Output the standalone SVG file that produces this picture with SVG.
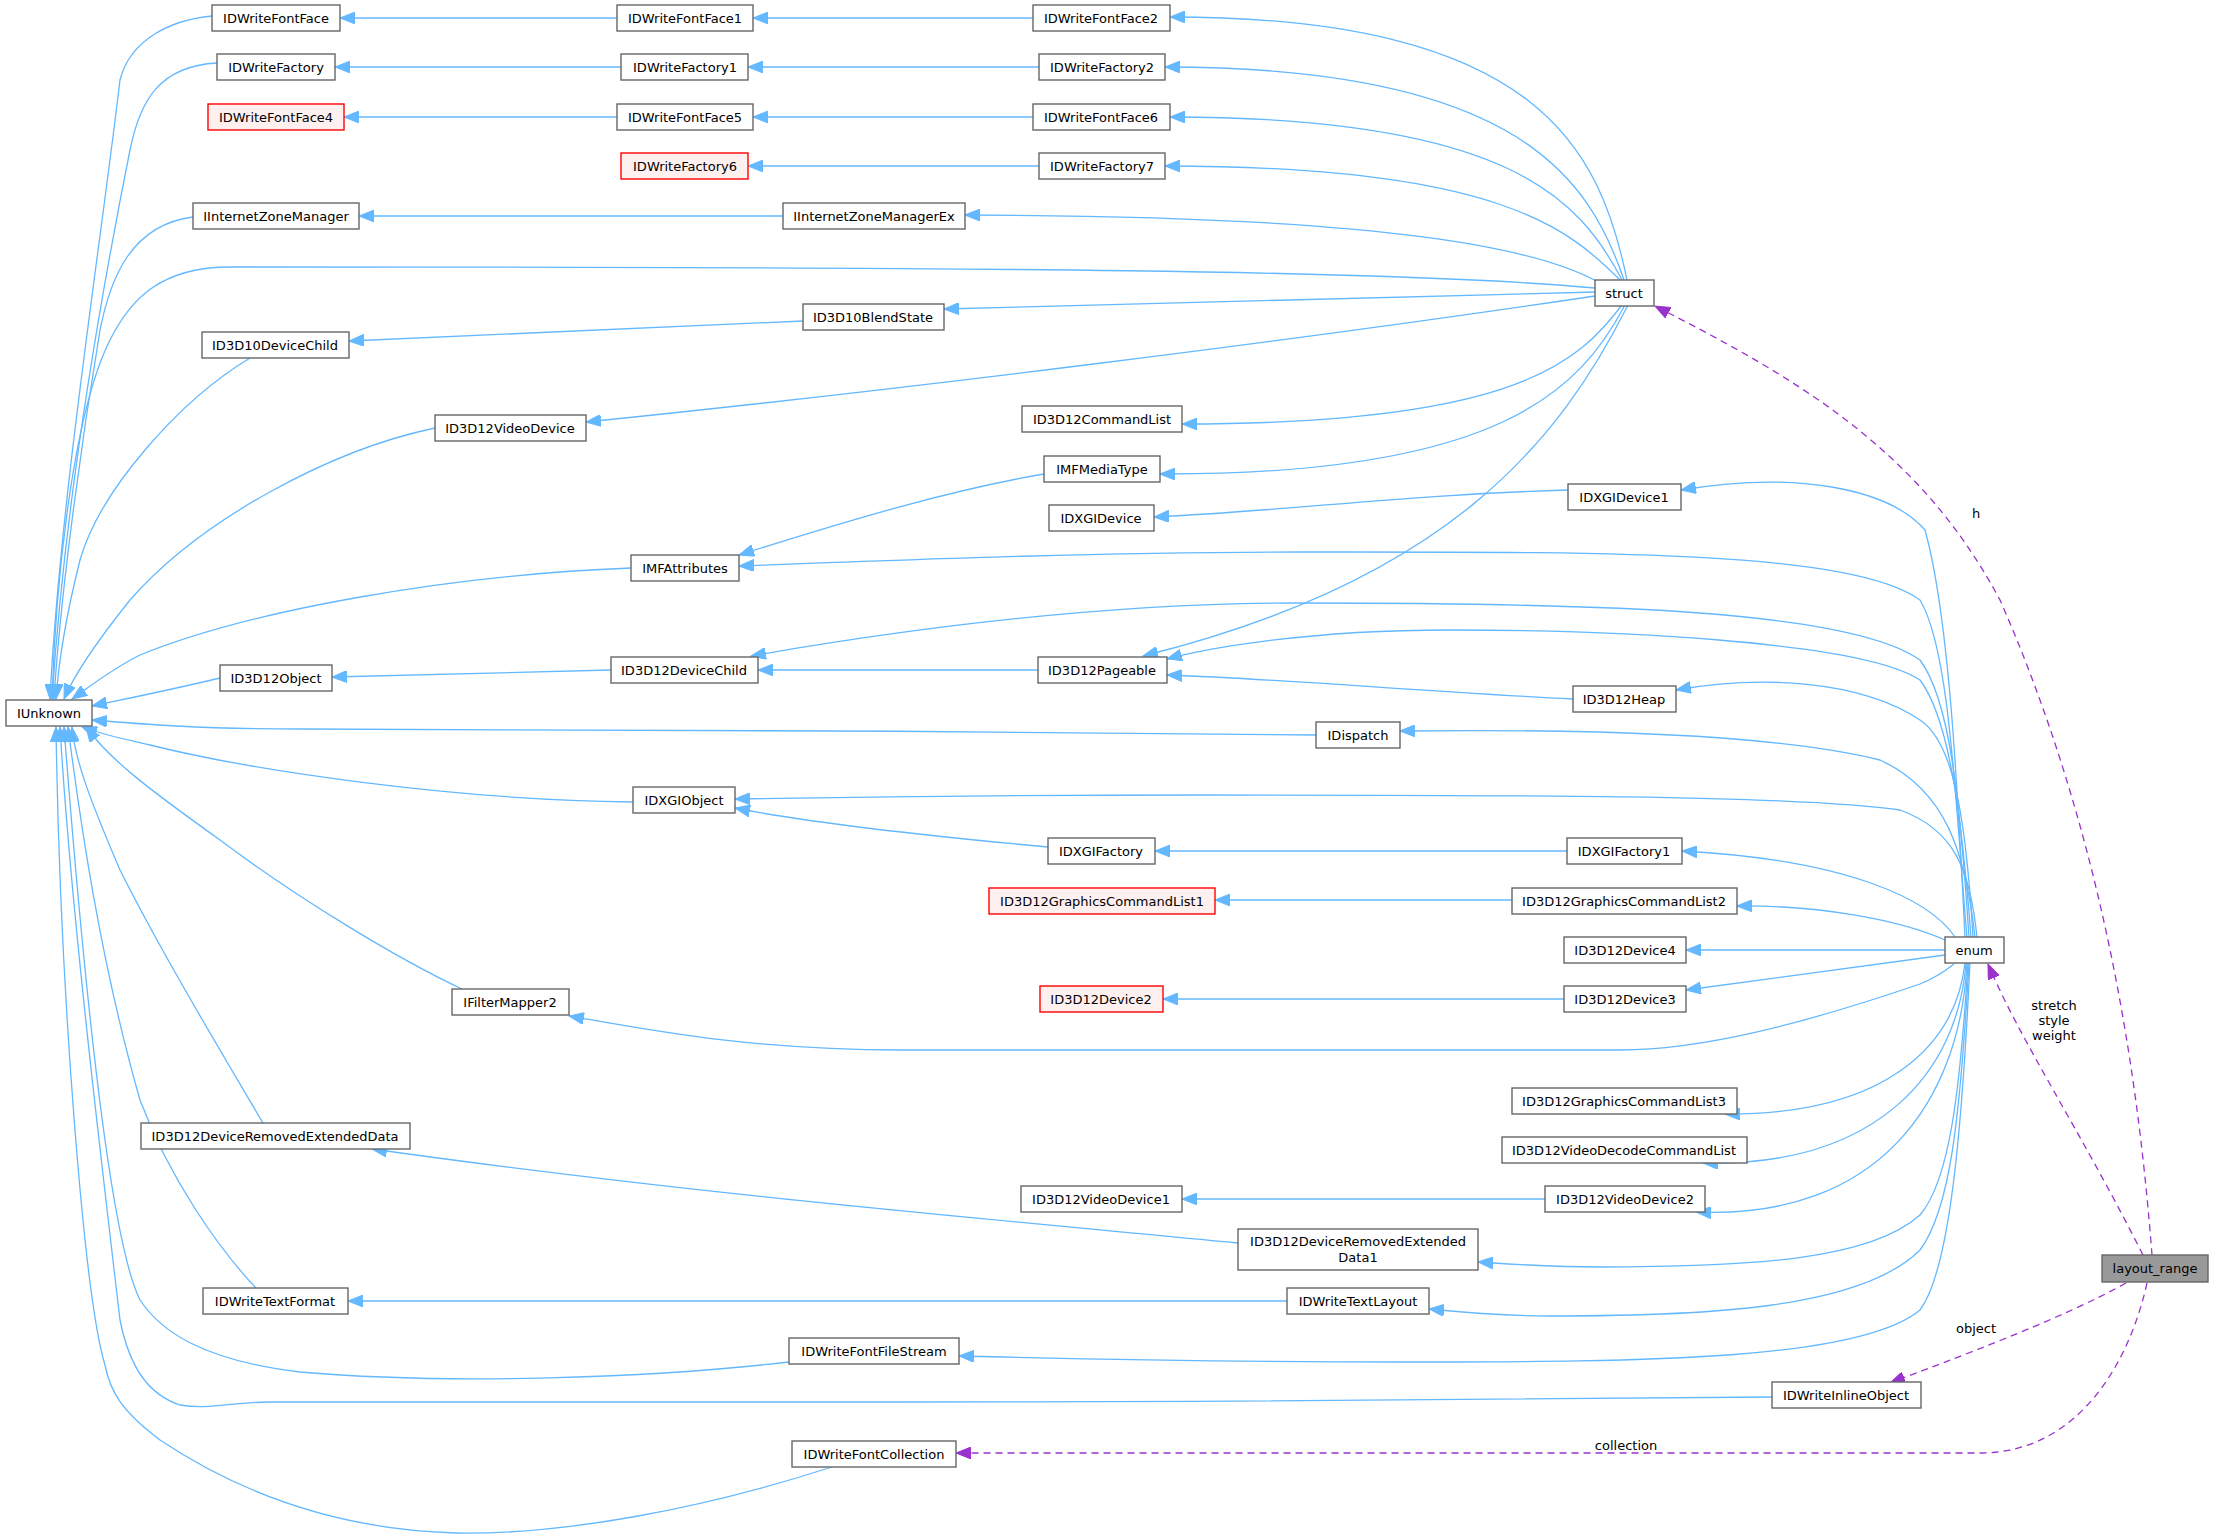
<svg xmlns="http://www.w3.org/2000/svg" width="2213" height="1539" viewBox="0 0 2213 1539">
<style>
rect{fill:#fff;stroke:#666;stroke-width:1.4}
.red rect{fill:#fff0f0;stroke:#f00}
.cur rect{fill:#999}
text{font-family:"DejaVu Sans","Liberation Sans",sans-serif;font-size:13px;fill:#000;text-anchor:middle}
.e path{fill:none;stroke:#63b8ff;stroke-width:1.3;marker-end:url(#a)}
.e path.d{stroke:#9a32cd;stroke-dasharray:7,5;marker-end:url(#p)}
</style>
<defs>
<marker id="a" markerUnits="userSpaceOnUse" markerWidth="16" markerHeight="12" refX="15" refY="6" orient="auto"><path d="M0,0 L15,6 L0,12 z" fill="#63b8ff" stroke="#63b8ff"/></marker>
<marker id="p" markerUnits="userSpaceOnUse" markerWidth="16" markerHeight="12" refX="15" refY="6" orient="auto"><path d="M0,0 L15,6 L0,12 z" fill="#9a32cd" stroke="#9a32cd"/></marker>
</defs>
<rect x="0" y="0" width="2213" height="1539" style="fill:#fff;stroke:none"/>
<g class="e" id="edges">
<path d="M617,18 L340,18"/><path d="M1033,18 L753,18"/>
<path d="M621,67 L335,67"/><path d="M1039,67 L748,67"/>
<path d="M617,117 L344,117"/><path d="M1033,117 L753,117"/>
<path d="M1039,166 L748,166"/><path d="M783,216 L359,216"/>
<path d="M1627,280 C1600,150 1540,17 1170,17"/>
<path d="M1624,280 C1590,180 1520,67 1165,67"/>
<path d="M1622,280 C1580,200 1510,117 1170,117"/>
<path d="M1620,280 C1570,230 1500,166 1165,166"/>
<path d="M1598,282 C1540,250 1400,216 965,215"/>
<path d="M1595,288 C1400,270 1000,267 230,267 C160,267 130,300 110,340 C70,420 55,600 52,699"/>
<path d="M1595,292 C1400,296 1200,303 944,309"/>
<path d="M1595,296 C1300,340 900,390 586,422"/>
<path d="M1622,305 C1580,360 1520,424 1182,424"/>
<path d="M1625,305 C1580,390 1500,475 1160,474"/>
<path d="M1628,305 C1560,440 1450,580 1143,656"/>
<path d="M1568,490 C1400,495 1300,510 1154,517"/>
<path d="M1965,937 C1958,800 1950,620 1925,530 C1890,490 1800,470 1681,490"/>
<path d="M1967,937 C1955,800 1950,650 1920,600 C1850,550 1600,552 1300,552 C1100,552 900,560 739,566"/>
<path d="M1969,937 C1960,800 1950,700 1920,660 C1850,610 1600,603 1300,603 C1100,603 900,630 751,656"/>
<path d="M1971,937 C1962,820 1950,720 1920,680 C1860,640 1600,630 1450,630 C1300,630 1200,650 1167,659"/>
<path d="M1573,699 C1400,690 1300,680 1167,675"/>
<path d="M1973,937 C1965,800 1950,740 1920,720 C1860,680 1760,675 1676,690"/>
<path d="M1316,735 C1000,730 400,730 300,729 C200,729 140,724 92,720"/>
<path d="M1975,937 C1965,850 1945,790 1880,760 C1800,740 1650,728 1400,731"/>
<path d="M220,678 C170,690 130,698 92,706"/>
<path d="M611,670 C500,673 400,675 332,677"/>
<path d="M1038,670 L758,670"/>
<path d="M631,568 C450,575 250,610 140,655 C110,670 85,690 72,699"/>
<path d="M1044,474 C950,490 850,520 739,555"/>
<path d="M435,428 C330,450 200,520 130,600 C90,650 72,680 64,699"/>
<path d="M250,358 C180,400 100,490 80,560 C65,620 58,670 56,699"/>
<path d="M803,321 L349,341"/>
<path d="M193,217 C130,225 110,280 100,330 C80,450 60,600 54,699"/>
<path d="M217,63 C160,66 140,100 130,150 C100,300 65,500 52,699"/>
<path d="M212,16 C170,20 130,40 120,80 C100,250 60,500 50,699"/>
<path d="M633,802 C450,800 250,770 150,745 C120,738 100,734 82,727"/>
<path d="M1977,937 C1970,870 1955,830 1900,810 C1800,795 1500,795 1200,795 C1000,795 850,797 735,799"/>
<path d="M1048,847 C950,838 820,825 735,808"/>
<path d="M1567,851 L1155,851"/>
<path d="M1955,937 C1930,900 1850,860 1682,851"/>
<path d="M1512,900 L1215,900"/>
<path d="M1945,940 C1900,920 1820,905 1737,906"/>
<path d="M1945,950 L1686,950"/>
<path d="M1564,999 L1163,999"/>
<path d="M1945,955 L1686,990"/>
<path d="M1954,964 C1940,975 1930,980 1920,984 C1800,1025 1700,1050 1620,1050 L900,1050 C750,1050 650,1030 569,1016"/>
<path d="M462,989 C400,960 300,900 220,840 C150,790 110,760 86,727"/>
<path d="M1965,963 C1955,1050 1880,1115 1725,1114"/>
<path d="M1966,963 C1958,1070 1880,1167 1703,1163"/>
<path d="M1545,1199 L1182,1199"/>
<path d="M1967,963 C1960,1100 1880,1220 1696,1212"/>
<path d="M1968,963 C1960,1090 1950,1180 1920,1215 C1870,1260 1750,1267 1600,1267 C1550,1267 1510,1264 1478,1262"/>
<path d="M1238,1243 C1000,1220 700,1195 372,1149"/>
<path d="M263,1123 C220,1050 160,950 120,870 C90,800 75,760 72,727"/>
<path d="M1287,1301 L348,1301"/>
<path d="M1969,963 C1960,1120 1950,1210 1920,1250 C1860,1310 1700,1316 1550,1316 C1500,1316 1460,1312 1429,1309"/>
<path d="M256,1288 C220,1250 170,1180 140,1100 C100,960 80,820 68,727"/>
<path d="M1970,963 C1962,1130 1950,1270 1920,1310 C1860,1360 1650,1362 1400,1362 C1200,1362 1050,1358 959,1356"/>
<path d="M789,1362 C650,1378 450,1385 300,1372 C200,1360 160,1330 140,1300 C110,1240 85,1000 64,727"/>
<path d="M1772,1397 C1600,1400 1200,1402 900,1402 L270,1402 C230,1402 210,1410 180,1405 C150,1395 130,1370 120,1320 C100,1150 70,900 60,727"/>
<path d="M835,1466 C700,1510 560,1535 456,1533 C350,1530 250,1500 160,1440 C120,1410 110,1390 105,1365 C85,1300 60,1000 56,727"/>
<path class="d" d="M2152,1255 C2140,1100 2110,850 2000,600 C1920,450 1800,380 1655,306"/>
<path class="d" d="M2143,1255 C2080,1130 2020,1040 1988,964"/>
<path class="d" d="M2126,1283 C2060,1320 1950,1360 1890,1383"/>
<path class="d" d="M2147,1283 C2130,1360 2080,1453 1980,1453 L956,1453"/>
</g>
<g id="labels">
<text x="1976" y="518">h</text>
<text x="2054" y="1010">stretch</text><text x="2054" y="1025">style</text><text x="2054" y="1040">weight</text>
<text x="1976" y="1333">object</text>
<text x="1626" y="1450">collection</text>
</g>
<g id="n1"><rect x="212" y="5" width="128" height="26"/><text x="276" y="23">IDWriteFontFace</text></g>
<g id="n2"><rect x="617" y="5" width="136" height="26"/><text x="685" y="23">IDWriteFontFace1</text></g>
<g id="n3"><rect x="1033" y="5" width="137" height="26"/><text x="1101" y="23">IDWriteFontFace2</text></g>
<g id="n4"><rect x="217" y="54" width="118" height="26"/><text x="276" y="72">IDWriteFactory</text></g>
<g id="n5"><rect x="621" y="54" width="127" height="26"/><text x="685" y="72">IDWriteFactory1</text></g>
<g id="n6"><rect x="1039" y="54" width="126" height="26"/><text x="1102" y="72">IDWriteFactory2</text></g>
<g id="n7" class="red"><rect x="208" y="104" width="136" height="26"/><text x="276" y="122">IDWriteFontFace4</text></g>
<g id="n8"><rect x="617" y="104" width="136" height="26"/><text x="685" y="122">IDWriteFontFace5</text></g>
<g id="n9"><rect x="1033" y="104" width="137" height="26"/><text x="1101" y="122">IDWriteFontFace6</text></g>
<g id="n10" class="red"><rect x="621" y="153" width="127" height="26"/><text x="685" y="171">IDWriteFactory6</text></g>
<g id="n11"><rect x="1039" y="153" width="126" height="26"/><text x="1102" y="171">IDWriteFactory7</text></g>
<g id="n12"><rect x="193" y="203" width="166" height="26"/><text x="276" y="221">IInternetZoneManager</text></g>
<g id="n13"><rect x="783" y="203" width="182" height="26"/><text x="874" y="221">IInternetZoneManagerEx</text></g>
<g id="n14"><rect x="1595" y="280" width="59" height="26"/><text x="1624" y="298">struct</text></g>
<g id="n15"><rect x="803" y="304" width="141" height="26"/><text x="873" y="322">ID3D10BlendState</text></g>
<g id="n16"><rect x="202" y="332" width="147" height="26"/><text x="275" y="350">ID3D10DeviceChild</text></g>
<g id="n17"><rect x="1022" y="406" width="160" height="26"/><text x="1102" y="424">ID3D12CommandList</text></g>
<g id="n18"><rect x="435" y="415" width="151" height="26"/><text x="510" y="433">ID3D12VideoDevice</text></g>
<g id="n19"><rect x="1044" y="456" width="116" height="26"/><text x="1102" y="474">IMFMediaType</text></g>
<g id="n20"><rect x="1568" y="484" width="113" height="26"/><text x="1624" y="502">IDXGIDevice1</text></g>
<g id="n21"><rect x="1049" y="505" width="105" height="26"/><text x="1101" y="523">IDXGIDevice</text></g>
<g id="n22"><rect x="631" y="555" width="108" height="26"/><text x="685" y="573">IMFAttributes</text></g>
<g id="n23"><rect x="611" y="657" width="147" height="26"/><text x="684" y="675">ID3D12DeviceChild</text></g>
<g id="n24"><rect x="1038" y="657" width="129" height="26"/><text x="1102" y="675">ID3D12Pageable</text></g>
<g id="n25"><rect x="220" y="665" width="112" height="26"/><text x="276" y="683">ID3D12Object</text></g>
<g id="n26"><rect x="1573" y="686" width="103" height="26"/><text x="1624" y="704">ID3D12Heap</text></g>
<g id="n27"><rect x="6" y="700" width="86" height="26"/><text x="49" y="718">IUnknown</text></g>
<g id="n28"><rect x="1316" y="722" width="84" height="26"/><text x="1358" y="740">IDispatch</text></g>
<g id="n29"><rect x="633" y="787" width="102" height="26"/><text x="684" y="805">IDXGIObject</text></g>
<g id="n30"><rect x="1048" y="838" width="107" height="26"/><text x="1101" y="856">IDXGIFactory</text></g>
<g id="n31"><rect x="1567" y="838" width="115" height="26"/><text x="1624" y="856">IDXGIFactory1</text></g>
<g id="n32" class="red"><rect x="989" y="888" width="226" height="26"/><text x="1102" y="906">ID3D12GraphicsCommandList1</text></g>
<g id="n33"><rect x="1512" y="888" width="225" height="26"/><text x="1624" y="906">ID3D12GraphicsCommandList2</text></g>
<g id="n34"><rect x="1564" y="937" width="122" height="26"/><text x="1625" y="955">ID3D12Device4</text></g>
<g id="n35"><rect x="1945" y="937" width="59" height="26"/><text x="1974" y="955">enum</text></g>
<g id="n36" class="red"><rect x="1040" y="986" width="123" height="26"/><text x="1101" y="1004">ID3D12Device2</text></g>
<g id="n37"><rect x="1564" y="986" width="122" height="26"/><text x="1625" y="1004">ID3D12Device3</text></g>
<g id="n38"><rect x="452" y="989" width="117" height="26"/><text x="510" y="1007">IFilterMapper2</text></g>
<g id="n39"><rect x="1512" y="1088" width="225" height="26"/><text x="1624" y="1106">ID3D12GraphicsCommandList3</text></g>
<g id="n40"><rect x="141" y="1123" width="269" height="26"/><text x="275" y="1141">ID3D12DeviceRemovedExtendedData</text></g>
<g id="n41"><rect x="1502" y="1137" width="245" height="26"/><text x="1624" y="1155">ID3D12VideoDecodeCommandList</text></g>
<g id="n42"><rect x="1021" y="1186" width="161" height="26"/><text x="1101" y="1204">ID3D12VideoDevice1</text></g>
<g id="n43"><rect x="1545" y="1186" width="160" height="26"/><text x="1625" y="1204">ID3D12VideoDevice2</text></g>
<g id="n44"><rect x="1238" y="1229" width="240" height="41"/><text x="1358" y="1246">ID3D12DeviceRemovedExtended</text><text x="1358" y="1262">Data1</text></g>
<g id="n45" class="cur"><rect x="2102" y="1255" width="106" height="27"/><text x="2155" y="1273">layout_range</text></g>
<g id="n46"><rect x="203" y="1288" width="145" height="26"/><text x="275" y="1306">IDWriteTextFormat</text></g>
<g id="n47"><rect x="1287" y="1288" width="142" height="26"/><text x="1358" y="1306">IDWriteTextLayout</text></g>
<g id="n48"><rect x="789" y="1338" width="170" height="26"/><text x="874" y="1356">IDWriteFontFileStream</text></g>
<g id="n49"><rect x="1772" y="1382" width="149" height="26"/><text x="1846" y="1400">IDWriteInlineObject</text></g>
<g id="n50"><rect x="792" y="1441" width="164" height="26"/><text x="874" y="1459">IDWriteFontCollection</text></g>
</svg>
